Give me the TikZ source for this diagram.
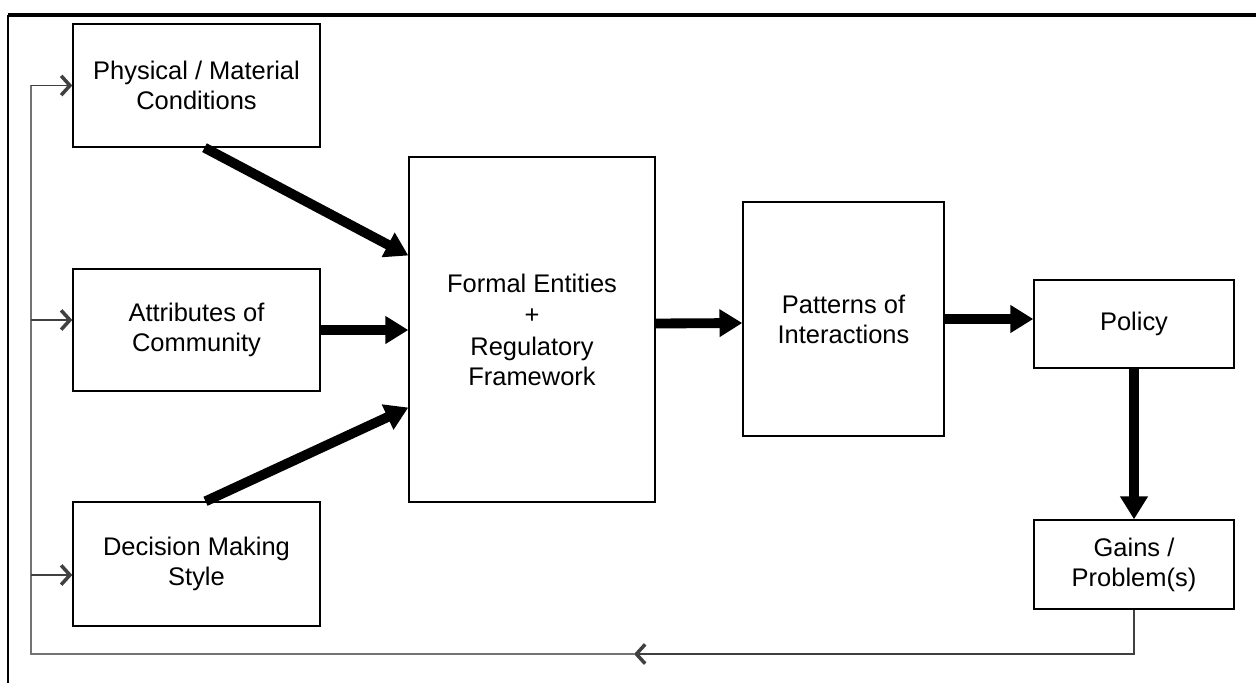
\documentclass[tikz,border=0pt]{standalone}
\usepackage{fontspec}
\setmainfont{Liberation Sans}
\usetikzlibrary{arrows.meta,calc}

\begin{document}
\begin{tikzpicture}[x=0.02cm, y=-0.02cm,
		box/.style={draw, line width=0.8pt, align=center, inner sep=0pt, font=\fontsize{14.5}{17}\selectfont},
		bigarrow/.style={line width=5.6pt, -{Triangle[length=13pt, width=15pt]}},
		fb/.style={draw=black!55, line width=1pt},
		fbarrow/.style={draw=black!75, line width=1pt, -{Straight Barb[length=5pt, width=11pt, line width=2pt]}}]
			\useasboundingbox (0, 0) rectangle (1256, 683) ;

			% frame
			\draw[line width=1.3pt] (8, 683) -- (8, 15) ;
			\draw[line width=2.2pt] (7.5, 15) -- (1256, 15) ;

			\node[box, minimum width=4.94cm, minimum height=2.46cm] (phys) at (196.5, 85.5) {Physical / Material\\Conditions} ;
			\node[box, minimum width=4.94cm, minimum height=2.44cm] (attr) at (196.5, 330) {Attributes of\\Community} ;
			\node[box, minimum width=4.94cm, minimum height=2.48cm] (dec) at (196.5, 564) {Decision Making\\Style} ;
			\node[box, minimum width=4.92cm, minimum height=6.9cm] (formal) at (532, 329.5) {Formal Entities\\[1pt] +\\[1pt] Regulatory\\Framework} ;
			\node[box, minimum width=4.02cm, minimum height=4.68cm] (patt) at (843.5, 319) {Patterns of\\Interactions} ;
			\node[box, minimum width=4cm, minimum height=1.76cm] (pol) at (1134, 324) {Policy} ;
			\node[box, minimum width=4cm, minimum height=1.78cm] (gain) at (1134, 564.5) {Gains /\\Problem(s)} ;

			\draw[bigarrow] ($(phys.south)+(8, 0)$) -- ($(formal.west)+(0, -74)$) ;
			\draw[bigarrow] (attr.east) -- (attr.east -| formal.west) ;
			\draw[bigarrow] ($(dec.north)+(9, 0)$) -- ($(formal.west)+(0, 78)$) ;
			\draw[bigarrow] ($(formal.east)+(0, -6)$) -- ($(patt.west)+(0, 4)$) ;
			\draw[bigarrow] (patt.east) -- (patt.east -| pol.west) ;
			\draw[bigarrow] (pol.south) -- (gain.north) ;

			% feedback loop
			\coordinate (mid) at (634, 654) ;
			\coordinate (corner) at (31, 654) ;
			\draw[fbarrow] (gain.south) |- (mid) ;
			\draw[fb] (mid) -- (corner) |- (phys.west) ;
			\draw[fbarrow] (corner |- phys.west) -- (phys.west) ;
			\draw[fbarrow] ($(corner |- attr.west)+(0, -10)$) -- ($(attr.west)+(0, -10)$) ;
			\draw[fbarrow] ($(corner |- dec.west)+(0, 11)$) -- ($(dec.west)+(0, 11)$) ;
\end{tikzpicture}
\end{document}
